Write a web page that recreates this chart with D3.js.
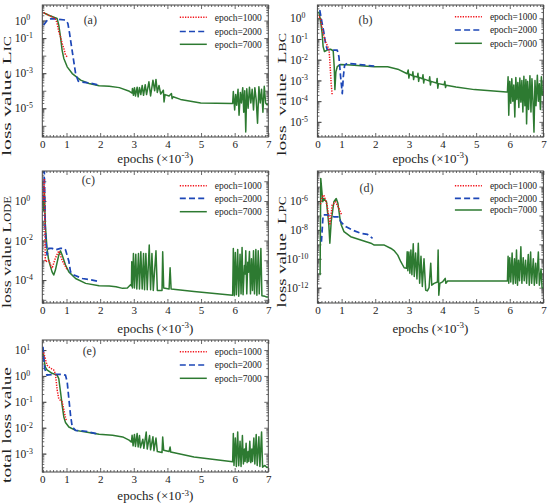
<!DOCTYPE html>
<html>
<head>
<meta charset="utf-8">
<script src="https://cdn.jsdelivr.net/npm/d3@7"></script>
<style>
  body { margin: 0; background: #fff; }
  svg, svg text { font-family: "Liberation Serif", "Times New Roman", serif; }
  svg { display: block; }
</style>
</head>
<body>
<svg id="chart" width="550" height="503"></svg>
<script>
// ---- data: [epochs x 10^-3, loss value] ----
const legendNames = ["epoch=1000", "epoch=2000", "epoch=7000"];
const xTickValues = [1, 2, 3, 4, 5, 6, 7];

// (a) L_IC
const icRed = [[0.32,2.8],[0.47,2.0],[0.67,1.3],[0.72,0.69],[0.77,0.23],[0.82,0.12],[0.87,0.05],[0.92,0.026],[0.97,0.011],[1.02,0.0085]];
const icBlue = [[0.32,0.55],[0.45,1.17],[0.57,1.3],[0.77,1.17],[0.97,1.07],[1.04,0.69],[1.09,0.19],[1.15,0.032],[1.21,5.5e-3],[1.27,9.5e-4],[1.35,3.5e-4],[1.42,3.2e-4],[1.67,2.8e-4],[1.87,2.3e-4],[1.97,2.0e-4]];
const icGreen = [[0.32,2.8],[0.47,2.0],[0.72,1.3],[0.77,0.55],[0.82,0.12],[0.87,0.02],[0.92,6.9e-3],[1.02,2.3e-3],[1.17,9.5e-4],[1.42,4.0e-4],[1.67,2.6e-4],[1.97,1.9e-4],[2.27,1.8e-4],[2.57,1.5e-4],[2.87,9.3e-5],[2.95,7.4e-5],
  [2.96,1.35e-4],[2.99,5.5e-5],[3.02,1.5e-4],[3.05,5e-5],[3.1,1.6e-4],[3.13,4.5e-5],[3.17,1.5e-4],[3.21,6e-5],[3.25,2e-4],[3.29,5.5e-5],[3.34,2.2e-4],[3.38,6e-5],[3.45,3.2e-4],[3.5,5e-5],[3.57,4e-4],[3.62,1e-4],[3.66,4.4e-4],[3.7,8e-5],[3.75,2e-4],[3.8,6.5e-5],[3.88,1.07e-4],[3.9,2.3e-5],[3.93,6e-5],[4.05,5e-5],[4.12,6.9e-5],[4.14,3.5e-5],[4.17,4.5e-5],[4.39,3.2e-5],[4.99,2.0e-5],[5.94,1.86e-5],
  [5.96,9e-5],[6.0,8e-6],[6.03,6e-5],[6.06,1.5e-5],[6.1,1.2e-4],[6.13,4e-6],[6.17,8e-5],[6.2,2e-5],[6.24,1.5e-4],[6.27,6e-6],[6.3,1e-4],[6.33,4.5e-7],[6.36,1.3e-4],[6.4,1e-5],[6.44,1.6e-4],[6.48,2e-5],[6.52,1.2e-4],[6.56,8e-6],[6.6,1.5e-4],[6.64,3e-5],[6.68,1.4e-6],[6.72,1.7e-4],[6.76,2e-5],[6.8,1.2e-4],[6.84,6e-6],[6.88,1.8e-4],[6.92,2e-5],[6.96,1.6e-5],[7.0,1.6e-5]];

// (b) L_BC
const bcRed = [[0.28,1.45],[0.37,1.0],[0.45,0.19],[0.52,0.074],[0.59,0.043],[0.63,0.025],[0.66,4.6e-3],[0.69,7e-4],[0.72,1.95e-4]];
const bcBlue = [[0.35,2.5],[0.42,0.58],[0.47,0.22],[0.52,0.062],[0.57,0.032],[0.72,0.029],[0.87,0.029],[0.92,0.014],[0.97,1.5e-3],[1.02,2.3e-4],[1.05,1.5e-3],[1.09,5.5e-3],[1.17,6.6e-3],[1.47,6.0e-3],[1.97,4.9e-3]];
const bcGreen = [[0.32,2.1],[0.37,0.83],[0.42,0.19],[0.45,0.043],[0.49,0.025],[0.57,0.029],[0.67,0.032],[0.75,0.027],[0.78,4.6e-3],[0.8,3.6e-4],[0.83,2.6e-3],[0.87,4.6e-3],[0.97,5.9e-3],[1.27,5.5e-3],[1.97,4.6e-3],[2.37,4.6e-3],[2.67,3.5e-3],[2.95,2.1e-3],
  [2.98,3.2e-3],[3.0,1.3e-3],[3.02,2.0e-3],[3.1,1.7e-3],[3.12,2.6e-3],[3.14,1.1e-3],[3.16,1.6e-3],[3.25,1.45e-3],[3.27,2.2e-3],[3.29,9e-4],[3.31,1.4e-3],[3.4,1.2e-3],[3.42,1.9e-3],[3.44,7.5e-4],[3.46,1.15e-3],[3.6,9.5e-4],[3.62,1.5e-3],[3.64,6e-4],[3.66,9e-4],[3.82,7.5e-4],[3.84,1.25e-3],[3.86,4.2e-4],[3.88,7e-4],[4.05,6.2e-4],[4.07,9e-4],[4.09,4.5e-4],[4.11,5.8e-4],[4.4,4.8e-4],[4.95,3.6e-4],[5.9,2.8e-4],
  [5.93,2.8e-4],[5.95,1.5e-3],[5.97,2.1e-5],[6.0,9e-4],[6.03,8e-5],[6.06,1.2e-3],[6.09,1.0e-4],[6.12,6e-4],[6.15,1.7e-5],[6.18,1.4e-3],[6.21,1.2e-4],[6.24,8e-4],[6.27,5e-5],[6.3,1.3e-3],[6.33,9e-5],[6.36,1.0e-3],[6.39,3e-5],[6.42,1.6e-3],[6.45,6e-5],[6.48,1.1e-3],[6.5,8e-6],[6.53,9e-4],[6.56,4e-5],[6.6,1.7e-3],[6.63,3e-5],[6.66,1.2e-3],[6.69,1e-4],[6.72,3.2e-6],[6.75,1.0e-3],[6.78,6e-5],[6.82,1.8e-3],[6.85,1e-4],[6.88,7e-4],[6.91,4e-5],[6.94,1.5e-3],[6.97,2e-4],[7.0,3e-4]];

// (c) L_ODE
const odeRed = [[0.32,1.0],[0.34,14],[0.37,8.5e-4],[0.47,1.0e-3],[0.57,3.9e-4],[0.67,1.3e-3],[0.77,3.0e-3],[0.87,1.0e-3],[0.97,4.8e-4],[1.02,3.2e-4]];
const odeBlue = [[0.32,1.0],[0.34,33],[0.37,0.028],[0.42,1.85e-3],[0.47,4e-3],[0.57,4e-3],[0.67,3.4e-3],[0.82,4e-3],[0.92,4e-3],[0.97,3.4e-3],[1.07,8.9e-4],[1.12,2.6e-4],[1.22,1.8e-4],[1.47,1.2e-4],[1.77,1.0e-4],[1.97,8.4e-5]];
const odeGreen = [[0.32,0.3],[0.34,4.4],[0.37,0.061],[0.42,4e-3],[0.47,1.0e-3],[0.57,2.6e-4],[0.62,1.8e-4],[0.67,3.2e-4],[0.77,1.85e-3],[0.82,3.0e-3],[0.87,1.85e-3],[0.97,5.8e-4],[1.07,2.6e-4],[1.27,1.2e-4],[1.57,6.8e-5],[1.97,5.1e-5],[2.27,5e-5],[2.47,4.6e-5],[2.67,3.8e-5],[2.81,4e-5],[2.91,6e-5],
  [2.93,5e-5],[2.94,8.5e-4],[2.96,4e-5],[2.99,2.2e-3],[3.02,4e-5],[3.06,2.0e-3],[3.09,3.5e-5],[3.14,2.2e-3],[3.17,3.5e-5],[3.21,2.7e-3],[3.25,3.5e-5],[3.29,2.2e-3],[3.32,3.2e-5],[3.36,2.2e-3],[3.4,3.2e-5],[3.46,5.9e-3],[3.5,3.2e-5],[3.54,2.2e-3],[3.58,3e-5],[3.66,3.0e-3],[3.7,3e-5],[3.84,3e-5],[3.86,2.7e-3],[3.89,4e-5],[4.05,3.5e-5],[4.08,4.2e-4],[4.11,3.5e-5],[4.79,2.6e-5],[5.94,1.7e-5],
  [5.96,4e-3],[5.99,1.6e-5],[6.02,2.5e-3],[6.05,1.8e-5],[6.09,3.5e-3],[6.12,1.5e-5],[6.16,2e-3],[6.19,2e-5],[6.22,4.5e-3],[6.25,1.8e-5],[6.29,5.5e-4],[6.31,2e-4],[6.33,3e-3],[6.36,2e-5],[6.39,8e-4],[6.41,2.5e-4],[6.44,2.8e-3],[6.47,2e-5],[6.5,1.2e-3],[6.53,3e-5],[6.56,3e-3],[6.59,2e-5],[6.63,3.5e-3],[6.66,1.7e-5],[6.7,3e-3],[6.73,2e-5],[6.78,4e-3],[6.81,1.6e-5],[6.9,1.5e-5],[6.95,1.4e-5],[7.0,1.4e-5]];

// (d) L_PC
const pcRed = [[0.37,6e-7],[0.42,2.0e-6],[0.47,2.6e-6],[0.57,5.2e-7],[0.65,2.2e-8],[0.72,5.2e-7],[0.82,8.9e-7],[0.92,3.1e-7],[1.0,1.1e-7]];
const pcBlue = [[0.40,1.5e-9],[0.45,1.1e-7],[0.57,1.1e-7],[0.77,8.1e-8],[0.92,8.1e-8],[0.97,3.7e-8],[1.12,1.7e-8],[1.32,9.8e-9],[1.57,5.8e-9],[1.77,4.9e-9],[1.92,2.6e-9]];
const pcGreen = [[0.36,7.4e-12],[0.38,3.7e-5],[0.44,8.9e-7],[0.47,1.5e-6],[0.55,8.9e-7],[0.62,2.2e-8],[0.65,1.2e-9],[0.69,3.7e-8],[0.77,8.9e-7],[0.84,1.5e-6],[0.89,6.9e-7],[0.95,6.3e-8],[0.99,2.2e-8],[1.07,7.6e-9],[1.27,3.4e-9],[1.57,2.0e-9],[1.87,1.2e-9],[1.97,8.9e-10],[2.27,8.9e-10],[2.47,5.2e-10],[2.57,3.5e-10],[2.67,1.8e-10],[2.76,6.3e-11],[2.86,2.4e-11],[2.93,2.2e-11],
  [2.95,3.1e-10],[2.97,1.5e-11],[3.0,3e-10],[3.03,1.0e-11],[3.06,4e-10],[3.09,8e-12],[3.13,1.1e-9],[3.16,6e-12],[3.2,2.5e-10],[3.24,4e-12],[3.28,1.2e-9],[3.32,2e-12],[3.36,1.5e-10],[3.4,1.2e-12],[3.45,1.0e-10],[3.5,6.8e-13],[3.55,6e-13],[3.6,1.0e-12],[3.65,5e-11],[3.68,1.5e-12],[3.75,2e-12],[3.85,2.5e-12],[3.87,4e-10],[3.89,3e-13],[3.92,2e-12],[4.0,2.5e-12],[4.08,4.4e-12],[4.1,2e-12],[4.15,2.9e-12],[5.93,2.9e-12],
  [5.95,1.5e-10],[5.97,2e-12],[6.0,1.2e-10],[6.03,2.5e-12],[6.07,2.5e-10],[6.1,1.8e-12],[6.14,1e-10],[6.17,2e-12],[6.2,4e-10],[6.23,1.5e-12],[6.26,8e-11],[6.29,3e-12],[6.33,6.9e-10],[6.36,2e-12],[6.4,1.2e-10],[6.43,3e-12],[6.47,8e-11],[6.5,2e-12],[6.55,2e-10],[6.58,1.5e-12],[6.62,3e-10],[6.65,2e-12],[6.7,1e-10],[6.73,1.5e-12],[6.77,5e-11],[6.8,2e-12],[6.85,3e-10],[6.88,1.5e-12],[6.93,2e-11],[6.96,1e-12],[7.0,9e-13]];

// (e) total loss
const totRed = [[0.32,8],[0.42,2.6],[0.52,2.0],[0.62,1.7],[0.67,1.2],[0.72,0.30],[0.77,0.13],[0.87,0.1],[0.92,0.05],[0.97,0.025],[1.0,0.018]];
const totBlue = [[0.30,13.4],[0.35,1.95],[0.42,1.07],[0.47,1.1],[0.67,1.15],[0.87,1.15],[0.97,1.07],[1.02,0.59],[1.07,0.13],[1.12,0.03],[1.17,0.0107],[1.27,7.9e-3],[1.57,7.3e-3],[1.97,5.6e-3]];
const totGreen = [[0.30,7.4],[0.37,2.2],[0.42,1.7],[0.57,1.26],[0.72,1.07],[0.77,0.79],[0.82,0.25],[0.87,0.074],[0.92,0.026],[0.97,0.016],[1.07,0.0107],[1.27,7.9e-3],[1.57,6.9e-3],[1.97,5.6e-3],[2.37,5.1e-3],[2.67,4.4e-3],[2.86,3.3e-3],[2.93,2.8e-3],
  [2.95,5.1e-3],[2.98,2.0e-3],[3.02,5.5e-3],[3.05,1.9e-3],[3.1,6e-3],[3.13,1.8e-3],[3.17,5e-3],[3.2,1.7e-3],[3.27,3.6e-3],[3.3,1.6e-3],[3.37,6.8e-3],[3.4,1.5e-3],[3.47,5e-3],[3.5,1.4e-3],[3.57,4.5e-3],[3.6,1.3e-3],[3.66,4e-3],[3.7,1.2e-3],[3.84,1.1e-3],[3.86,4.4e-3],[3.89,1.35e-3],[4.05,1.2e-3],[4.08,1.8e-3],[4.1,1.15e-3],[4.79,7.4e-4],[5.94,4.8e-4],
  [5.96,6e-3],[5.98,3.5e-4],[6.02,4e-3],[6.05,3.2e-4],[6.09,6.9e-3],[6.12,3.4e-4],[6.16,3e-3],[6.19,3.2e-4],[6.23,5e-3],[6.26,4e-4],[6.29,1.5e-3],[6.31,5e-4],[6.34,2.5e-3],[6.37,4.5e-4],[6.4,1.2e-3],[6.42,5e-4],[6.45,3e-3],[6.48,4.5e-4],[6.51,1.5e-3],[6.53,5e-4],[6.57,4e-3],[6.6,4e-4],[6.64,5.5e-3],[6.67,3.5e-4],[6.72,4.5e-3],[6.75,3.2e-4],[6.8,6.9e-3],[6.83,3e-4],[6.9,3.5e-4],[6.95,3e-4],[7.0,3e-4]];

// ---- layout ----
const xStart = 0.28;          // left edge of every frame (labelled "0")
const pw = 226, ph = 132;
const ink = "#444";
const lineStyles = [
  { stroke: "#f2141c", width: 1.5, dash: "1.3,1.3" },
  { stroke: "#1d47b7", width: 1.7, dash: "6,3.2" },
  { stroke: "#2d7a31", width: 1.5, dash: null }
];

const panels = [
  { key: "a", tag: "(a)", left: 42.3, top: 5, yDomain: [2.3e-7, 7.7], yTicks: [1, 1e-1, 1e-3, 1e-5],
    yLabel: ["loss value L", "IC"], yLen: 120, yCy: 96, tagPos: [48, 15], legY: [12.3, 26.5, 39.3], xTitleDy: 21,
    series: [icRed, icBlue, icGreen] },
  { key: "b", tag: "(b)", left: 317.4, top: 5, yDomain: [1.86e-6, 4.37], yTicks: [1, 1e-1, 1e-2, 1e-3, 1e-4, 1e-5],
    yLabel: ["loss  value  L", "BC"], yLen: 123, yCy: 94.5, tagPos: [48, 15], legY: [11.7, 25, 38.3], xTitleDy: 21,
    series: [bcRed, bcBlue, bcGreen] },
  { key: "c", tag: "(c)", left: 42.3, top: 171, yDomain: [6.9e-6, 33], yTicks: [1, 1e-2, 1e-4],
    yLabel: ["loss value L", "ODE"], yLen: 112, yCy: 252, tagPos: [46, 9], legY: [14.7, 27.3, 40.7], xTitleDy: 25,
    series: [odeRed, odeBlue, odeGreen] },
  { key: "d", tag: "(d)", left: 317.4, top: 171, yDomain: [8.7e-14, 1.2e-4], yTicks: [1e-6, 1e-8, 1e-10, 1e-12],
    yLabel: ["loss value  L", "PC"], yLen: 111, yCy: 252, tagPos: [49, 17], legY: [14.7, 27.3, 39], xTitleDy: 25,
    series: [pcRed, pcBlue, pcGreen] },
  { key: "e", tag: "(e)", left: 42.3, top: 340, yDomain: [1.95e-4, 24.4], yTicks: [10, 1, 1e-1, 1e-2, 1e-3],
    yLabel: ["total loss value", ""], yLen: 116, yCy: 425, tagPos: [47, 11], legY: [11.7, 25, 38.3], xTitleDy: 23.5,
    series: [totRed, totBlue, totGreen] }
];

const svg = d3.select("#chart");

function styleAxis(a) {
  a.select(".domain").remove();
  a.selectAll(".tick line").attr("stroke", ink).attr("stroke-width", 0.8);
  a.attr("font-family", null).attr("font-size", 11);
  a.selectAll(".tick text").attr("fill", "#222");
}

function applyLine(sel, s) {
  sel.attr("fill", "none").attr("stroke", s.stroke).attr("stroke-width", s.width)
     .attr("stroke-linejoin", "round").attr("stroke-dasharray", s.dash);
}

function drawPanel(p) {
  const g = svg.append("g").attr("transform", `translate(${p.left},${p.top})`);
  const x = d3.scaleLinear().domain([xStart, 7]).range([0, pw]);
  const y = d3.scaleLog().domain(p.yDomain).range([ph, 0]);

  // ticks
  const xMinor = d3.range(3, 70).filter(i => i % 10 !== 0).map(i => i / 10);
  const e0 = Math.ceil(Math.log10(p.yDomain[0])), e1 = Math.floor(Math.log10(p.yDomain[1]));
  const decades = d3.range(e0, e1 + 1).map(e => Math.pow(10, e));
  const yMinor = [];
  d3.range(e0 - 1, e1 + 1).forEach(e => {
    for (let m = 2; m <= 9; m++) {
      const v = m * Math.pow(10, e);
      if (v > p.yDomain[0] && v < p.yDomain[1]) yMinor.push(v);
    }
  });

  g.append("g").attr("transform", `translate(0,${ph})`)
    .call(d3.axisBottom(x).tickValues([xStart].concat(xTickValues))
      .tickFormat(d => String(Math.floor(d))).tickSizeInner(-4).tickSizeOuter(0).tickPadding(3))
    .call(styleAxis);
  g.append("g").attr("transform", `translate(0,${ph})`)
    .call(d3.axisBottom(x).tickValues(xMinor).tickFormat("").tickSizeInner(-2).tickSizeOuter(0)).call(styleAxis);
  g.append("g")
    .call(d3.axisTop(x).tickValues(xTickValues).tickFormat("").tickSizeInner(-4).tickSizeOuter(0)).call(styleAxis);
  g.append("g")
    .call(d3.axisTop(x).tickValues(xMinor).tickFormat("").tickSizeInner(-2).tickSizeOuter(0)).call(styleAxis);

  g.append("g")
    .call(d3.axisLeft(y).tickValues(p.yTicks).tickSizeInner(-4).tickSizeOuter(0))
    .call(styleAxis)
    .call(a => a.selectAll(".tick text").each(function (d) {
      const e = Math.round(Math.log10(d));
      const sup = (e < 0 ? "-" : "") + Math.abs(e);
      const t = d3.select(this).text(null).attr("font-size", 11.5)
        .attr("text-anchor", "start").attr("x", sup.length > 2 ? -31 : -27.5);
      t.append("tspan").text("10");
      t.append("tspan").attr("dy", "-0.55em").attr("font-size", "0.68em").text(sup);
    }));
  g.append("g")
    .call(d3.axisLeft(y).tickValues(decades).tickFormat("").tickSizeInner(-4).tickSizeOuter(0)).call(styleAxis);
  g.append("g")
    .call(d3.axisLeft(y).tickValues(yMinor).tickFormat("").tickSizeInner(-2).tickSizeOuter(0)).call(styleAxis);
  g.append("g").attr("transform", `translate(${pw},0)`)
    .call(d3.axisRight(y).tickValues(decades).tickFormat("").tickSizeInner(-4).tickSizeOuter(0)).call(styleAxis);
  g.append("g").attr("transform", `translate(${pw},0)`)
    .call(d3.axisRight(y).tickValues(yMinor).tickFormat("").tickSizeInner(-2).tickSizeOuter(0)).call(styleAxis);

  // curves
  const clipId = "clip-" + p.key;
  g.append("clipPath").attr("id", clipId).append("rect").attr("width", pw).attr("height", ph);
  const line = d3.line().x(d => x(d[0])).y(d => y(d[1]));
  const plot = g.append("g").attr("clip-path", `url(#${clipId})`);
  [2, 1, 0].forEach(i => {
    plot.append("path").datum(p.series[i]).attr("d", line).call(applyLine, lineStyles[i]);
  });

  // frame
  g.append("rect").attr("width", pw).attr("height", ph)
    .attr("fill", "none").attr("stroke", ink).attr("stroke-width", 1);

  // panel tag
  g.append("text").attr("x", p.tagPos[0]).attr("y", p.tagPos[1]).attr("dy", "0.35em")
    .attr("text-anchor", "middle").attr("font-size", 12).attr("fill", "#333").text(p.tag);

  // legend
  const leg = g.append("g").attr("transform", "translate(137.5,0)");
  legendNames.forEach((name, i) => {
    leg.append("line").attr("x1", 0).attr("x2", 27).attr("y1", p.legY[i]).attr("y2", p.legY[i])
      .call(applyLine, lineStyles[i]);
    leg.append("text").attr("x", 35).attr("y", p.legY[i]).attr("dy", "0.35em")
      .attr("font-size", 9.5).attr("fill", "#222").text(name);
  });

  // x title
  const xt = g.append("text").attr("x", pw / 2).attr("y", ph + p.xTitleDy).attr("dy", "0.35em")
    .attr("text-anchor", "middle").attr("font-size", 13).attr("fill", "#222");
  xt.append("tspan").text("epochs (\u00d710");
  xt.append("tspan").attr("dy", -4.5).attr("font-size", 9).text("-3");
  xt.append("tspan").attr("dy", 4.5).text(")");

  // y title, stretched to the length it has in the figure
  const yt = svg.append("text").attr("text-anchor", "middle").attr("font-size", 13.5)
    .attr("fill", "#222").style("white-space", "pre");
  yt.append("tspan").text(p.yLabel[0]);
  if (p.yLabel[1]) yt.append("tspan").attr("font-size", 9.5).text(p.yLabel[1]);
  const natural = yt.node().getComputedTextLength();
  yt.attr("transform", `translate(${p.left - 31},${p.yCy}) rotate(-90) scale(${p.yLen / natural},1)`);
}

panels.forEach(drawPanel);
</script>
</body>
</html>
